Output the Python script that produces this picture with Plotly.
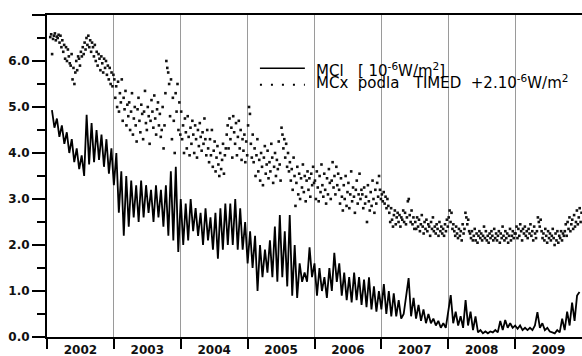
import plotly.graph_objects as go

# ---------------- data ----------------
years = [2002, 2003, 2004, 2005, 2006, 2007, 2008, 2009]
year_labels = ["2002", "2003", "2004", "2005", "2006", "2007", "2008", "2009"]
y_tick_vals = [0, 1, 2, 3, 4, 5, 6, 7]
y_tick_text = ["0.0", "1.0", "2.0", "3.0", "4.0", "5.0", "6.0", ""]

# MCl [1e-6 W/m2], 27 samples per year (~half solar rotation)
mcl_2002 = [None, None, 4.93, 4.55, 4.75, 4.35, 4.6, 4.2, 4.45, 4.0, 4.3, 3.8, 4.1, 3.65,
            3.95, 3.5, 4.83, 3.75, 4.65, 3.8, 4.5, 3.85, 4.4, 3.7, 4.3, 3.55, 4.1]
mcl_2003 = [3.3, 4.0, 2.7, 3.6, 2.2, 3.5, 2.4, 3.4, 2.6, 3.3, 2.5, 3.4, 2.6, 3.3,
            2.7, 3.2, 2.5, 3.3, 2.6, 3.2, 2.4, 3.3, 2.2, 3.6, 2.1, 3.7, 1.85]
mcl_2004 = [3.0, 2.0, 2.9, 2.1, 3.0, 2.3, 2.8, 2.2, 2.7, 2.0, 2.8, 2.1, 2.6, 1.9,
            2.7, 1.7, 2.8, 1.9, 2.9, 2.0, 2.9, 2.0, 3.0, 1.9, 2.8, 1.9, 2.5]
mcl_2005 = [1.6, 2.3, 1.5, 2.2, 1.0, 2.0, 1.3, 1.9, 1.4, 2.1, 1.3, 2.4, 1.2, 2.65,
            1.3, 2.3, 1.1, 2.65, 0.9, 2.0, 0.85, 1.6, 1.2, 1.4, 1.2, 1.95, 1.3]
mcl_2006 = [1.6, 0.9, 1.5, 1.0, 1.3, 0.85, 1.5, 1.0, 1.83, 1.2, 1.6, 0.9, 1.4, 0.8,
            1.3, 0.75, 1.4, 0.8, 1.3, 0.7, 1.25, 0.65, 1.3, 0.6, 1.1, 0.55, 1.0]
mcl_2007 = [0.6, 1.15, 0.5, 1.0, 0.45, 0.95, 0.45, 0.8, 0.4, 0.5, 0.9, 1.28, 0.45, 0.85,
            0.4, 0.7, 0.35, 0.6, 0.3, 0.5, 0.3, 0.4, 0.25, 0.35, 0.2, 0.3, 0.2]
mcl_2008 = [0.55, 0.91, 0.3, 0.55, 0.25, 0.45, 0.2, 0.8, 0.25, 0.55, 0.15, 0.45, 0.1, 0.15,
            0.08, 0.12, 0.08, 0.12, 0.1, 0.15, 0.1, 0.35, 0.15, 0.37, 0.2, 0.3, 0.2]
mcl_2009 = [0.25, 0.18, 0.25, 0.15, 0.2, 0.15, 0.2, 0.15, 0.25, 0.54, 0.2, 0.3, 0.15, 0.2,
            0.12, 0.1, 0.08, 0.15, 0.1, 0.4, 0.15, 0.55, 0.25, 0.75, 0.35, 0.9, 0.98]

# MCx podla TIMED + 2e-6 W/m2, 72 samples per year
mcx_2002 = [None, None, None, 6.52, 6.58, 6.15, 6.48, 6.55, 6.6, 6.45, 6.53, 6.5, 6.57,
            6.4, 6.55, 6.3, 6.45, 6.2, 6.35, 6.05, 6.3, 6.0, 6.25, 6.1, 5.95,
            5.9, 6.15, 5.6, 5.85, 5.5, 5.75, 6.0, 5.8, 6.1,
            6.05, 5.9, 6.2, 6.1, 6.3, 6.15, 6.4, 6.25, 6.5, 6.35, 6.55, 6.3, 6.45, 6.2, 6.4,
            6.3, 6.1, 6.35, 6.0, 6.2, 5.9, 6.15, 6.05, 5.8, 6.1, 5.95, 5.75, 6.05, 5.85, 6.0,
            5.7, 5.9, 5.6, 5.85, 5.5, 5.75, 5.45, 5.7]
mcx_2003 = [5.6, 5.2, 5.45, 5.0, 5.55, 4.9, 5.3, 5.1, 5.6, 4.7, 5.2, 4.95, 5.35, 4.6, 5.05,
            4.8, 5.1, 4.5, 4.9, 5.3, 4.4, 4.75, 5.0, 4.6, 4.25, 4.95, 5.2, 4.7, 4.45, 5.05,
            4.85, 4.3, 4.9, 5.35, 4.65, 4.5, 5.0, 4.8, 4.2, 4.7, 5.15, 4.9, 4.55, 5.25, 4.75,
            4.4, 4.95, 5.1, 4.6, 4.85, 4.35,
            4.5, 5.0, 4.1, 4.6, 5.3, 6.0, 5.85, 5.75,
            5.5, 4.8, 5.6, 4.3, 5.2, 4.7, 4.0, 5.3, 4.9, 5.5, 4.5, 5.1, 4.4]
mcx_2004 = [4.9, 4.3, 4.6, 4.0, 4.75, 4.45, 4.1, 4.8, 4.35, 3.95, 4.55, 4.2, 4.7, 4.4, 4.0,
            4.6, 4.3, 3.9, 4.5, 4.15, 4.65, 4.35, 4.05, 4.45, 4.2, 4.75, 4.3, 3.95, 4.5,
            4.1, 3.8, 4.3, 3.95, 4.5, 3.7, 4.05, 4.25, 3.6, 3.9, 4.15, 3.75, 3.5, 4.0, 3.65,
            3.85, 4.2, 3.55, 3.95, 4.1,
            4.4, 4.6, 4.1, 4.75, 4.3, 4.55, 3.9, 4.8, 4.45, 4.2, 4.65, 3.95, 4.35, 4.7, 4.1,
            4.5, 3.85, 4.3, 4.05, 4.4, 3.8, 4.25, 3.95]
mcx_2005 = [4.6, 5.0, 4.85, 4.2, 3.9, 4.4,
            3.8, 4.1, 3.5, 3.95, 4.3, 3.6, 3.85, 3.4, 4.0, 3.7, 3.3, 3.9, 4.15, 3.55, 3.75,
            4.05, 3.45, 3.8, 3.6, 4.2, 3.9, 3.35, 3.7, 4.0, 3.5, 3.85, 3.65, 4.25, 3.75, 3.4,
            4.55, 4.4, 4.1, 4.3, 3.9, 4.2, 3.7, 4.0, 3.6,
            3.8, 3.4, 3.65, 3.2, 3.9, 3.5, 2.85, 3.35, 3.7, 3.1, 3.55, 3.0, 3.45, 3.25, 3.75,
            3.15, 3.5, 2.95, 3.4, 3.6, 3.2, 3.45, 3.05, 3.55, 3.3, 3.7, 3.35]
mcx_2006 = [3.4, 3.0, 3.6, 3.25, 2.95, 3.5, 3.15, 3.75, 3.3, 3.05, 3.55, 3.2, 2.9, 3.45,
            3.1, 3.65, 3.35, 3.0, 3.4, 3.8, 3.25, 3.5, 3.1, 3.7, 3.3, 3.55,
            3.2, 2.9, 3.45, 3.05, 2.75, 3.3, 3.0, 3.5, 2.85, 3.15, 3.35, 2.8, 3.1, 3.6, 2.95,
            3.25, 3.05, 2.7, 3.2, 3.4, 2.9, 3.1, 3.55, 3.0, 3.2,
            3.1, 2.8, 3.25, 2.9, 3.05, 2.5, 3.3, 2.95, 2.75, 3.15, 2.85, 3.4, 3.0, 2.7, 3.2,
            2.9, 3.35, 3.05, 3.5, 3.2, 3.0]
mcx_2007 = [3.1, 2.95, 3.15, 2.9, 3.05, 2.8, 3.0, 2.85,
            2.7, 2.5, 2.8, 2.55, 2.4, 2.65, 2.75, 2.45, 2.6, 2.7, 2.5, 2.65, 2.4, 2.6, 2.55,
            2.75, 2.5, 2.7, 2.45, 2.6, 2.95, 3.0, 2.65, 2.5, 2.75, 2.45, 2.6, 2.35,
            2.5, 2.35, 2.6, 2.4, 2.55, 2.3, 2.45, 2.65, 2.4, 2.25, 2.5, 2.35, 2.55, 2.3, 2.45,
            2.4, 2.2, 2.5, 2.35, 2.6, 2.3, 2.4, 2.25, 2.45, 2.35, 2.2, 2.5, 2.3, 2.4, 2.25,
            2.35, 2.2, 2.45, 2.3, 2.55, 2.4]
mcx_2008 = [2.6, 2.75, 2.5, 2.7, 2.35, 2.45,
            2.3, 2.2, 2.4, 2.25, 2.15, 2.35, 2.2, 2.3, 2.1, 2.45, 2.25, 2.35,
            2.7, 2.6, 2.45, 2.55, 2.3,
            2.25, 2.15, 2.3, 2.1, 2.2, 2.35, 2.1, 2.25, 2.05, 2.2,
            2.3, 2.15, 2.25, 2.1, 2.2, 2.4, 2.15, 2.3, 2.1, 2.2,
            2.05, 2.25, 2.15, 2.3, 2.2, 2.1, 2.35, 2.15, 2.25, 2.1,
            2.2, 2.3, 2.05, 2.25, 2.15, 2.4, 2.2, 2.1, 2.3, 2.15,
            2.25, 2.05, 2.2, 2.35, 2.1, 2.2, 2.3, 2.15, 2.25]
mcx_2009 = [2.25, 2.4, 2.15, 2.35, 2.2, 2.45, 2.3, 2.1, 2.35, 2.25, 2.4, 2.2, 2.3, 2.15,
            2.35, 2.25, 2.45, 2.2, 2.3, 2.1, 2.4, 2.25, 2.15, 2.3,
            2.6, 2.5, 2.4, 2.55,
            2.3, 2.15, 2.25, 2.1, 2.35, 2.2, 2.05, 2.3, 2.15, 2.25, 2.1, 2.2, 2.35, 2.15, 2.0,
            2.25, 2.1, 2.3, 2.05, 2.2, 2.15, 2.3, 2.1, 2.25, 2.2,
            2.3, 2.45, 2.2, 2.5, 2.35, 2.6, 2.3, 2.45, 2.55, 2.35, 2.65, 2.4, 2.5, 2.75, 2.45,
            2.6, 2.8, 2.5, 2.7]

mcl_by_year = [mcl_2002, mcl_2003, mcl_2004, mcl_2005, mcl_2006, mcl_2007, mcl_2008, mcl_2009]
mcx_by_year = [mcx_2002, mcx_2003, mcx_2004, mcx_2005, mcx_2006, mcx_2007, mcx_2008, mcx_2009]

# time grid (decimal years)
mcl_x, mcl_y, mcx_x, mcx_y = [], [], [], []
for yr, vals in zip(years, mcl_by_year):
    n = len(vals)
    for k, v in enumerate(vals):
        if v is not None:
            mcl_x.append(yr + k / n)
            mcl_y.append(v)
for yr, vals in zip(years, mcx_by_year):
    n = len(vals)
    for k, v in enumerate(vals):
        if v is not None:
            mcx_x.append(yr + (k + 0.5) / n)
            mcx_y.append(v)

fig = go.Figure()
fig.add_trace(go.Scatter(x=mcx_x, y=mcx_y, mode="markers",
                         marker=dict(symbol="square", size=2.6, color="#111"),
                         showlegend=False, hoverinfo="skip"))
fig.add_trace(go.Scatter(x=mcl_x, y=mcl_y, mode="lines",
                         line=dict(color="#000", width=1.8),
                         showlegend=False, hoverinfo="skip"))

tick_font = dict(family="DejaVu Sans", size=12, color="#111", weight="bold")

fig.update_layout(
    width=582, height=356,
    margin=dict(l=47, r=0, t=15, b=19),
    paper_bgcolor="white", plot_bgcolor="white",
    xaxis=dict(
        range=[2002, 2010],
        tickmode="array",
        tickvals=[y + 0.5 for y in years],
        ticktext=year_labels,
        ticks="outside", ticklen=1, tickcolor="rgba(0,0,0,0)",
        tickfont=tick_font,
        showgrid=False, zeroline=False, automargin=False,
        showline=True, linecolor="#000", linewidth=2, mirror=True,
        minor=dict(tickmode="array", tickvals=years, ticks="outside", ticklen=10,
                   tickwidth=1.5, tickcolor="#000",
                   showgrid=True, gridcolor="#9a9a9a", gridwidth=1.3),
    ),
    yaxis=dict(
        range=[0, 7],
        tickmode="array",
        tickvals=y_tick_vals,
        ticktext=y_tick_text,
        ticks="outside", ticklen=13, tickwidth=1.5, tickcolor="#000",
        tickfont=tick_font,
        showgrid=False, zeroline=False, automargin=False,
        showline=True, linecolor="#000", linewidth=2,
        minor=dict(dtick=0.5, tick0=0, ticks="outside", ticklen=8,
                   tickwidth=1.5, tickcolor="#000", showgrid=False),
    ),
)

# legend (drawn in paper coordinates)
leg_font = dict(family="DejaVu Sans", size=15, color="#000")
nb = "\u00a0"
fig.add_shape(type="line", xref="paper", yref="paper", x0=0.398, x1=0.482, y0=0.835, y1=0.835,
              line=dict(color="#000", width=1.5))
fig.add_shape(type="line", xref="paper", yref="paper", x0=0.398, x1=0.482, y0=0.783, y1=0.783,
              line=dict(color="#000", width=2, dash="2px,9px"))
fig.add_annotation(xref="paper", yref="paper", x=0.499, y=0.829, xanchor="left", yanchor="middle",
                   text="MCl" + nb * 3 + "[" + nb + "10<sup>-6</sup>W/m<sup>2</sup>]",
                   showarrow=False, font=leg_font)
fig.add_annotation(xref="paper", yref="paper", x=0.499, y=0.792, xanchor="left", yanchor="middle",
                   text="MCx" + nb * 2 + "podla" + nb * 3 + "TIMED" + nb * 2 +
                        "+2.10<sup>-6</sup>W/m<sup>2</sup>",
                   showarrow=False, font=leg_font)

fig.write_html("out.html",
               config={"displayModeBar": False},
               post_script="document.body.style.margin='0px';document.body.style.padding='0px';")
